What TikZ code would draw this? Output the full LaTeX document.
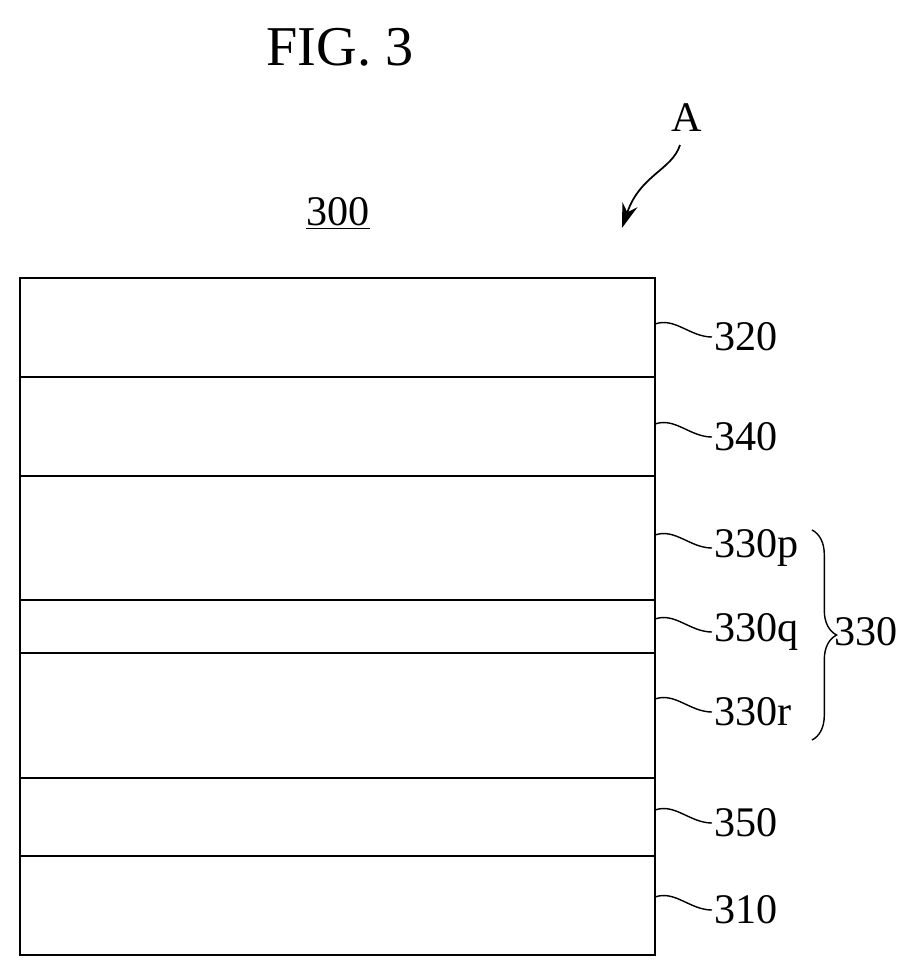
\documentclass[tikz,border=0pt]{standalone}
\usepackage{fontspec}
\setmainfont{Liberation Serif}
\usetikzlibrary{decorations.pathreplacing, calc, arrows.meta}
\tikzset{
    >={Stealth[length=14pt, width=9pt]},
    layer/.style={draw, line width=1.2pt},
    refnum/.style={font=\fontsize{24}{28}\selectfont, anchor=west, inner sep=1pt},
    leader/.style={line width=0.8pt},
}
\begin{document}
\begin{tikzpicture}[x=0.02cm, y=-0.02cm]
    \useasboundingbox (0,0) rectangle (916,975);
    \node[font=\fontsize{32}{36}\selectfont] (fig) at (340,47) {FIG. 3};
    \node[font=\fontsize{24}{28}\selectfont] (A) at (687,118) {A};
    \node[font=\fontsize{24}{28}\selectfont] (dev) at (338,213) {\underline{300}};
    \coordinate (Atip) at (622,228);
    \draw[->, leader, line width=1pt] (680,145) .. controls (672,170) and (640,175) .. (Atip);
    % layers
    \draw[layer] (20,278) rectangle (655,955);
    \foreach \y in {377,476,600,653,778,856}
        \draw[layer] (20,\y) -- (655,\y);
    % reference numerals
    \foreach \y/\t in {337/320,437/340,548/330p,632/330q,712/330r,823/350,910/310} {
        \node[refnum] (n\t) at (712,\y) {\t};
        \coordinate (e\t) at (655,\y-13);
        \draw[leader] (e\t) .. controls (675,\y-20) and (690,\y) .. (n\t.west);
    }
    \draw[decorate, decoration={brace, amplitude=14pt}, line width=0.8pt] (812,530) -- (812,740);
    \node[refnum] (n330) at (832,632) {330};
\end{tikzpicture}
\end{document}
